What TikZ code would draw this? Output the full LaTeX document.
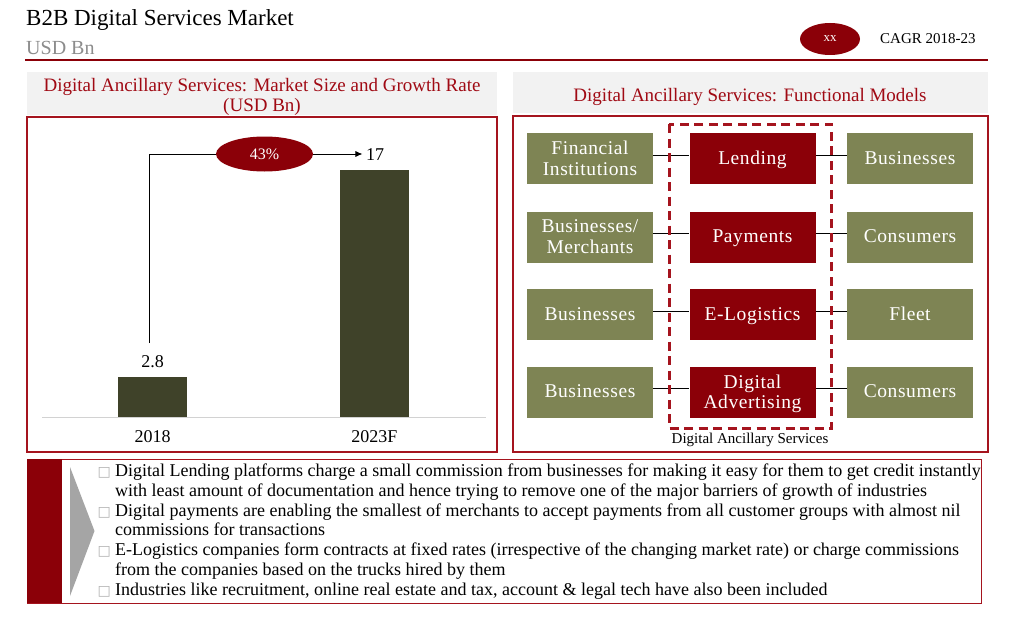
\documentclass[tikz,border=0pt]{standalone}
\usepackage{fontspec}
\setmainfont{Liberation Serif}
\newfontfamily\symfont{DejaVu Sans}
\newfontfamily\boxfont[LetterSpace=3]{Liberation Serif}
\usetikzlibrary{shapes.geometric,arrows.meta}

\definecolor{dunkelrot}{RGB}{139,0,8}
\definecolor{rahmenrot}{RGB}{165,20,30}
\definecolor{kopfrot}{RGB}{160,10,20}
\definecolor{oliv}{RGB}{126,132,84}
\definecolor{balken}{RGB}{63,66,41}
\definecolor{hellgrau}{RGB}{242,242,242}
\definecolor{grautext}{RGB}{140,140,140}
\definecolor{pfeilgrau}{RGB}{165,165,165}

\newcommand{\kasten}{\makebox[17.5pt][l]{\symfont\color{gray!60}\fontsize{14}{14}\selectfont □}}
\newcommand{\einzug}{\hspace*{17.5pt}}

\begin{document}
\begin{tikzpicture}[x=1pt,y=-1pt,
    feld/.style={fill=oliv,text=white,minimum width=126pt,minimum height=51pt,inner sep=0pt,align=center,text depth=1pt,font=\boxfont\fontsize{19.5}{20.5}\selectfont},
    dienst/.style={feld,fill=dunkelrot},
    linie/.style={black,line width=0.8pt},
    rahmen/.style={draw=rahmenrot,line width=2.3pt},
    wert/.style={font=\fontsize{18}{19}\selectfont}]
    \fill[white] (0,0) rectangle (1018,618);
    \useasboundingbox (0,0) rectangle (1018,618);

    % Kopf
    \node[anchor=base west,inner sep=0pt,font=\fontsize{23}{25}\selectfont] (titel) at (26,26) {B2B Digital Services Market};
    \node[anchor=base west,inner sep=0pt,text=grautext,font=\fontsize{20}{22}\selectfont] (einheit) at (26,55) {USD Bn};
    \draw[dunkelrot,line width=1.2pt] (25,60) -- (988,60);
    \node[ellipse,fill=dunkelrot,minimum width=60pt,minimum height=32pt,inner sep=0pt,text=white,font=\fontsize{13}{14}\selectfont] (xx) at (830,39) {xx};
    \node[anchor=west,inner sep=0pt,font=\fontsize{15}{16}\selectfont] (cagr) at (880,39) {CAGR 2018-23};

    % Ueberschriften
    \fill[hellgrau] (27,72) rectangle (497,115);
    \fill[hellgrau] (513,72) rectangle (988,113);
    \node[align=center,text=kopfrot,font=\fontsize{19}{19.5}\selectfont] (kopflinks) at (262,97) {Digital Ancillary Services: Market Size and Growth Rate\\(USD Bn)};
    \node[text=kopfrot,font=\fontsize{19}{20}\selectfont] (kopfrechts) at (750,96.5) {Digital Ancillary Services: Functional Models};

    % Rahmen
    \draw[rahmen] (27,117) rectangle (497,452);
    \draw[rahmen] (513,116) rectangle (988,452);

    % Diagramm
    \draw[gray!35,line width=0.8pt] (42,417) -- (486,417);
    \fill[balken] (118,377) rectangle (187,417);
    \fill[balken] (340,170) rectangle (409,417);
    \node[wert] (w18) at (152.5,362) {2.8};
    \node[wert] (w23) at (375,155) {17};
    \node[wert] (j18) at (152.5,437) {2018};
    \node[wert] (j23) at (374.5,437) {2023F};
    \node[ellipse,fill=dunkelrot,minimum width=97pt,minimum height=35pt,inner sep=0pt,text=white,font=\fontsize{16}{17}\selectfont] (rate) at (264.5,154) {43\%};
    \coordinate (start) at (149.5,343);
    \draw[linie] (start) |- (rate.west);
    \draw[linie,-{Latex[length=7pt,width=6pt]}] (rate.east) -- (rate.east -| w23.west);

    % Modelle
    \node[feld] (fi) at (590,158.5) {Financial\\Institutions};
    \node[dienst] (le) at (752.5,158.5) {Lending};
    \node[feld] (bu1) at (910,158.5) {Businesses};
    \node[feld] (bm) at (590,237) {Businesses/\\Merchants};
    \node[dienst] (pa) at (752.5,237) {Payments};
    \node[feld] (ko1) at (910,237) {Consumers};
    \node[feld] (bu2) at (590,314.5) {Businesses};
    \node[dienst] (el) at (752.5,314.5) {E-Logistics};
    \node[feld] (fl) at (910,314.5) {Fleet};
    \node[feld] (bu3) at (590,392) {Businesses};
    \node[dienst] (da) at (752.5,392) {Digital\\Advertising};
    \node[feld] (ko2) at (910,392) {Consumers};

    % Verbindungen
    \draw[linie] ([yshift=3.5pt]fi.east) -- ([yshift=3.5pt]le.west);
    \draw[linie] ([yshift=3.5pt]le.east) -- ([yshift=3.5pt]bu1.west);
    \draw[linie] ([yshift=3.5pt]bm.east) -- ([yshift=3.5pt]pa.west);
    \draw[linie] ([yshift=3.5pt]pa.east) -- ([yshift=3.5pt]ko1.west);
    \draw[linie] ([yshift=3.5pt]bu2.east) -- ([yshift=3.5pt]el.west);
    \draw[linie] ([yshift=3.5pt]el.east) -- ([yshift=3.5pt]fl.west);
    \draw[linie] ([yshift=3.5pt]bu3.east) -- ([yshift=3.5pt]da.west);
    \draw[linie] ([yshift=3.5pt]da.east) -- ([yshift=3.5pt]ko2.west);

    \draw[rahmenrot,line width=3pt,dash pattern=on 9pt off 5.5pt] (669,124) rectangle (831.5,428);
    \node[font=\fontsize{15}{16}\selectfont] (das) at (750,440) {Digital Ancillary Services};

    % Hinweise
    \draw[rahmenrot,line width=0.8pt] (27,459) rectangle (981,603);
    \fill[dunkelrot] (27,459) rectangle (62,603);
    \fill[pfeilgrau] (70,467) -- (94.5,531) -- (70,596) -- cycle;
    \node[anchor=base west,align=left,inner sep=0pt,font=\fontsize{18}{19.8}\selectfont] (liste) at (97.5,595.3) {%
        \kasten Digital Lending platforms charge a small commission from businesses for making it easy for them to get credit instantly\\
        \einzug with least amount of documentation and hence trying to remove one of the major barriers of growth of industries\\
        \kasten Digital payments are enabling the smallest of merchants to accept payments from all customer groups with almost nil\\
        \einzug commissions for transactions\\
        \kasten E-Logistics companies form contracts at fixed rates (irrespective of the changing market rate) or charge commissions\\
        \einzug from the companies based on the trucks hired by them\\
        \kasten Industries like recruitment, online real estate and tax, account \& legal tech have also been included};
\end{tikzpicture}
\end{document}
